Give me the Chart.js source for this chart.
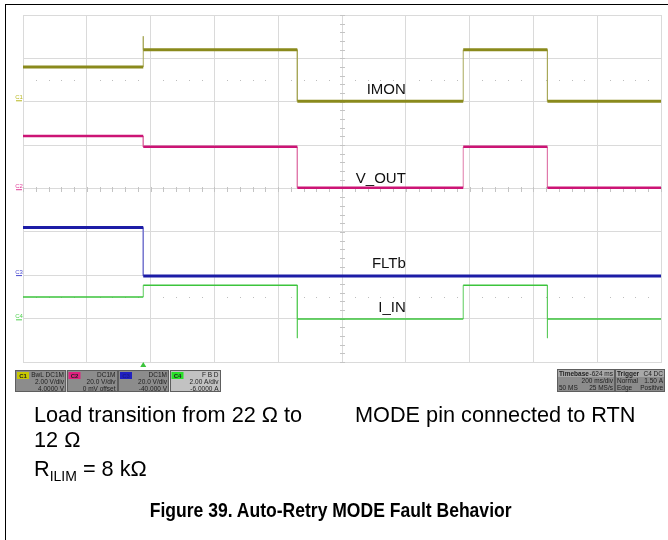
<!DOCTYPE html>
<html><head><meta charset="utf-8">
<script src="https://cdn.jsdelivr.net/npm/chart.js@4.4.1/dist/chart.umd.min.js"></script>
<style>
html,body{margin:0;padding:0;background:#fff;}
#wrap{position:relative;width:668px;height:540px;overflow:hidden;background:#fff;}
#frame{position:absolute;left:5px;top:4px;width:700px;height:600px;border-left:1.5px solid #000;border-top:1.5px solid #000;}
canvas{position:absolute;left:0;top:0;}
.t{position:absolute;font-family:"Liberation Sans",Arial,sans-serif;font-size:21.7px;line-height:21px;color:#000;white-space:nowrap;}
.sub{font-size:14px;position:relative;top:5px;}
.cap{position:absolute;left:0;width:662px;text-align:center;font-family:"Liberation Sans",Arial,sans-serif;font-weight:bold;font-size:21px;line-height:21px;white-space:nowrap;}
.cap span{display:inline-block;transform:scaleX(0.835);transform-origin:center;}
</style></head><body>
<div id="wrap">
<div id="frame"></div>
<canvas id="c" width="668" height="540"></canvas>
<div class="t" style="left:34px;top:404px">Load transition from 22 Ω to</div>
<div class="t" style="left:355px;top:404px">MODE pin connected to RTN</div>
<div class="t" style="left:34px;top:429px">12 Ω</div>
<div class="t" style="left:34px;top:458px">R<span class="sub">ILIM</span> = 8 kΩ</div>
<div class="cap" style="top:499px"><span>Figure 39. Auto-Retry MODE Fault Behavior</span></div>
</div>
<script>
// time axis in divisions (200 ms/div), edges of each constant segment
const timeEdgesDiv = [0, 1.885, 4.30, 6.90, 8.22, 10];
// trace levels in screen divisions from centre
const imonLevels = [2.80, 3.20, 2.01, 3.20, 2.01];
const imonEdgeSpikes = [3.51, null, null, null];
const voutLevels = [1.21, 0.96, 0.02, 0.96, 0.02];
const voutEdgeSpikes = [null, null, null, null];
const fltbLevels = [-0.90, -2.02, -2.02, -2.02, -2.02];
const fltbEdgeSpikes = [null, null, null, null];
const iinLevels = [-2.50, -2.23, -3.01, -2.23, -3.01];
const iinEdgeSpikes = [null, -3.45, null, -3.45];
// channel ground reference markers
const channelNames = ['C1', 'C2', 'C3', 'C4'];
const channelGround = [2.08, 0.03, -1.95, -2.97];
const traceNames = ['IMON', 'V_OUT', 'FLTb', 'I_IN'];
const triggerTimeDiv = 1.885;
const xTicks = [0,1,2,3,4,5,6,7,8,9,10];
const yTicks = [-4,-3,-2,-1,0,1,2,3,4];

const colors = {
  imon: '#8a8a1c', imonEdge: '#a8a85a',
  vout: '#cc1475', voutEdge: '#e07aaa',
  fltb: '#1c1ca6', fltbEdge: '#7a7ad0',
  iin: '#3cc43c', iinEdge: '#5ccc5c'
};

function flats(levels){
  const pts=[];
  for(let i=0;i<levels.length;i++){
    pts.push({x:timeEdgesDiv[i],y:levels[i]},{x:timeEdgesDiv[i+1],y:levels[i]},{x:timeEdgesDiv[i+1],y:null});
  }
  return pts;
}
function edges(levels,spikes){
  const pts=[];
  for(let i=1;i<levels.length;i++){
    if(levels[i-1]===levels[i]) continue;
    const t=timeEdgesDiv[i];
    pts.push({x:t,y:levels[i-1]});
    if(spikes[i-1]!==null) pts.push({x:t,y:spikes[i-1]});
    pts.push({x:t,y:levels[i]},{x:t,y:null});
  }
  return pts;
}
function ds(data,color,w,order){
  return {data,borderColor:color,borderWidth:w,pointRadius:0,spanGaps:false,tension:0,fill:false,order,borderCapStyle:'butt'};
}

const labelAnchor = {x:6.0, y:[2.17, 0.12, -1.84, -2.85]};

const deco = {
  id:'deco',
  beforeDatasetsDraw(chart){
    const c=chart.ctx, xs=chart.scales.x, ys=chart.scales.y;
    c.save();
    c.fillStyle='#c4c4c4';
    const cx=Math.round(xs.getPixelForValue(5)), cy=Math.round(ys.getPixelForValue(0));
    for(let v=-4;v<=4.001;v+=0.2){
      const y=Math.round(ys.getPixelForValue(v));
      c.fillRect(cx-2,y,5,1);
    }
    for(let v=0;v<=10.001;v+=0.2){
      const x=Math.round(xs.getPixelForValue(v));
      c.fillRect(x,cy-2,1,5);
    }
    c.fillStyle='#bdbdbd';
    [2.5,-2.5].forEach(lv=>{
      const y=Math.round(ys.getPixelForValue(lv));
      for(let v=0.2;v<10;v+=0.2){
        if(Math.abs(v-Math.round(v))<0.01) continue;
        const x=Math.round(xs.getPixelForValue(v));
        c.fillRect(x,y,1,1);
      }
    });
    c.restore();
  },
  afterDraw(chart){
    const c=chart.ctx, xs=chart.scales.x, ys=chart.scales.y;
    c.save();
    c.fillStyle='#111';
    c.font='15px "Liberation Sans", Arial, sans-serif';
    c.textAlign='right'; c.textBaseline='alphabetic';
    traceNames.forEach((n,i)=>{
      c.fillText(n, xs.getPixelForValue(labelAnchor.x), ys.getPixelForValue(labelAnchor.y[i]));
    });
    const chCols=['#b8b820','#e0409a','#4a4ad0','#50d050'];
    c.font='6px "Liberation Sans", Arial, sans-serif';
    c.textAlign='center'; c.textBaseline='middle';
    channelNames.forEach((n,i)=>{
      const y=ys.getPixelForValue(channelGround[i]);
      c.fillStyle=chCols[i];
      c.fillText(n,19,y-1);
      c.fillRect(16,y+2,6,1);
    });
    const tx=xs.getPixelForValue(triggerTimeDiv);
    c.fillStyle='#3cc43c';
    c.beginPath(); c.moveTo(tx-3,367); c.lineTo(tx+3,367); c.lineTo(tx,362); c.closePath(); c.fill();
    const tagCols=['#c8c800','#e0207f','#2020c0','#28e028'];
    const chText=[['BwL DC1M','2.00 V/div','4.0000 V'],['DC1M','20.0 V/div','0 mV offset'],['DC1M','20.0 V/div','-40.000 V'],['F B D','2.00 A/div','-6.0000 A']];
    for(let i=0;i<4;i++){
      const x=15+i*51.5, y=370, w=51, h=22;
      c.fillStyle= i<3 ? '#8c8c8c' : '#c2c2c2';
      c.fillRect(x,y,w,h);
      c.strokeStyle='#5e5e5e'; c.lineWidth=1; c.strokeRect(Math.round(x)+0.5,y+0.5,w-1,h-1);
      c.fillStyle=tagCols[i]; c.fillRect(x+2,y+2,12,7);
      c.fillStyle= i===2 ? '#1a1a8a' : '#222';
      c.font='bold 6px "Liberation Sans", Arial, sans-serif'; c.textAlign='center'; c.textBaseline='alphabetic';
      c.fillText(channelNames[i],x+8,y+8);
      c.fillStyle='#1e1e1e'; c.font='6.5px "Liberation Sans", Arial, sans-serif'; c.textAlign='right';
      c.fillText(chText[i][0],x+w-2,y+7);
      c.fillText(chText[i][1],x+w-2,y+14);
      c.fillText(chText[i][2],x+w-2,y+20.5);
    }
    const rb=[{x:557,w:58,rows:[['Timebase','-624 ms'],['','200 ms/div'],['50 MS','25 MS/s']]},{x:615,w:50,rows:[['Trigger','C4 DC'],['Normal','1.50 A'],['Edge','Positive']]}];
    rb.forEach(b=>{
      const y=369,h=23;
      c.fillStyle='#8c8c8c'; c.fillRect(b.x,y,b.w,h);
      c.fillStyle='#a8a8a8'; c.fillRect(b.x,y,b.w,8);
      c.strokeStyle='#5e5e5e'; c.strokeRect(b.x+0.5,y+0.5,b.w-1,h-1);
      c.fillStyle='#1e1e1e';
      b.rows.forEach((r,k)=>{
        const by=y+7+k*7;
        c.font=(k===0?'bold ':'')+'6.5px "Liberation Sans", Arial, sans-serif';
        c.textAlign='left'; c.fillText(r[0],b.x+2,by);
        c.font='6.5px "Liberation Sans", Arial, sans-serif';
        c.textAlign='right'; c.fillText(r[1],b.x+b.w-2,by);
      });
    });
    c.restore();
  }
};

const gridCol='#dadada';
new Chart(document.getElementById('c'),{
  type:'line',
  data:{datasets:[
    ds(flats(imonLevels),colors.imon,3,1),
    ds(edges(imonLevels,imonEdgeSpikes),colors.imonEdge,1,5),
    ds(flats(voutLevels),colors.vout,2.5,1),
    ds(edges(voutLevels,voutEdgeSpikes),colors.voutEdge,1,5),
    ds(flats(fltbLevels),colors.fltb,3,1),
    ds(edges(fltbLevels,fltbEdgeSpikes),colors.fltbEdge,1,5),
    ds(flats(iinLevels),colors.iin,1.5,1),
    ds(edges(iinLevels,iinEdgeSpikes),colors.iinEdge,1,5)
  ]},
  options:{
    responsive:false, animation:false, devicePixelRatio:1,
    layout:{padding:{left:23,top:15,right:7,bottom:178}},
    plugins:{legend:{display:false},tooltip:{enabled:false}},
    scales:{
      x:{type:'linear',min:0,max:10,afterBuildTicks(s){s.ticks=xTicks.map(v=>({value:v}));},ticks:{display:false},grid:{color:gridCol,drawTicks:false,lineWidth:1},border:{display:true,color:gridCol}},
      y:{type:'linear',min:-4,max:4,afterBuildTicks(s){s.ticks=yTicks.map(v=>({value:v}));},ticks:{display:false},grid:{color:gridCol,drawTicks:false,lineWidth:1},border:{display:true,color:gridCol}}
    }
  },
  plugins:[deco]
});
</script>
</body></html>
